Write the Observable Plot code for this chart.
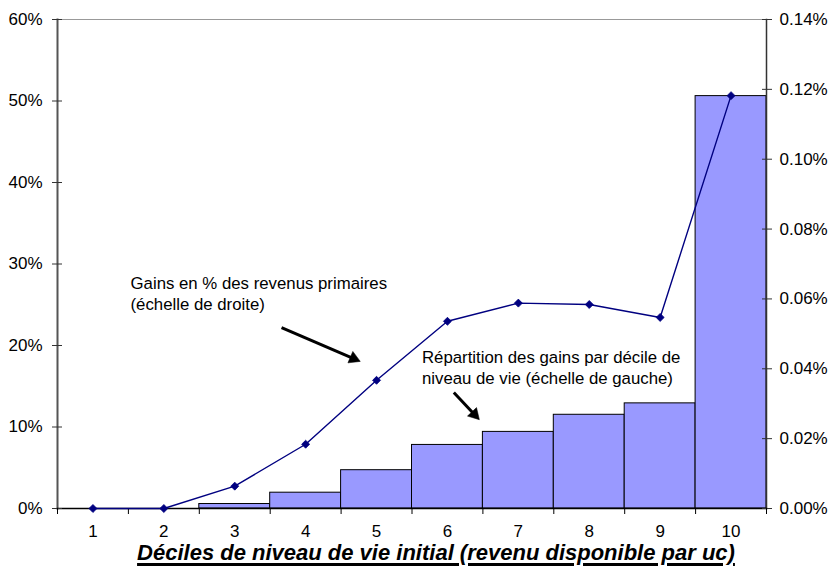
<!DOCTYPE html>
<html><head><meta charset="utf-8">
<script src="https://cdn.jsdelivr.net/npm/d3@7"></script>
<script src="https://cdn.jsdelivr.net/npm/@observablehq/plot@0.6"></script>
<style>
html,body{margin:0;padding:0;background:#fff;}
body{width:829px;height:566px;overflow:hidden;position:relative;font-family:"Liberation Sans",Arial,sans-serif;}
#chart svg{display:block;}
#title{position:absolute;left:0;top:542.8px;width:829px;box-sizing:border-box;padding-left:43px;text-align:center;height:22px;line-height:20px;
  font-size:22px;font-weight:bold;font-style:italic;text-decoration:underline;text-decoration-thickness:3px;
  text-underline-offset:3px;color:#000;white-space:nowrap;}
</style></head><body>
<div id="chart"></div>
<div id="title"></div>
<script>
// ---- data ----
const deciles = [1, 2, 3, 4, 5, 6, 7, 8, 9, 10];
// Répartition des gains par décile (échelle de gauche, en %)
const shareOfGains = [0, 0, 0.55, 1.94, 4.7, 7.8, 9.4, 11.5, 12.9, 50.6];
// Gains en % des revenus primaires (échelle de droite, en %)
const gainsPctPrimary = [0, 0, 0.0064, 0.0184, 0.0367, 0.0536, 0.0588, 0.0584, 0.0547, 0.1182];
const leftTicks = [0, 10, 20, 30, 40, 50, 60];
const rightTicks = [0, 0.02, 0.04, 0.06, 0.08, 0.10, 0.12, 0.14];
const xTitle = "Déciles de niveau de vie initial (revenu disponible par uc)";
const annotationTexts = [
  "Gains en % des revenus primaires\n(échelle de droite)",
  "Répartition des gains par décile de\nniveau de vie (échelle de gauche)"
];
// annotation anchors (x in deciles, y in left-axis %)
const annotationX = [1.53, 5.64];
const annotationY = [26.5, 17.4];
const arrowFrom = [[3.66, 22.2], [6.09, 14.23]];
const arrowTo = [[4.77, 18.05], [6.45, 10.9]];

// ---- build ----
const W = 829, H = 541, mL = 57, mR = 63, mT = 19, mB = 33;
const leftMax = 60, rightMax = 0.14;
const k = leftMax / rightMax;
const xDomain = [0.5, 10.5];
const data = deciles.map((d, i) => ({decile: d, share: shareOfGains[i], gain: gainsPctPrimary[i]}));
const edges = d3.range(0.5, 10.51, 1);
const annotations = annotationTexts.map((t, i) => ({text: t, x: annotationX[i], y: annotationY[i]}));

// scales (same as the plot) used to orient the filled arrow heads
const sx = Plot.scale({x: {type: "linear", domain: xDomain, range: [mL, W - mR]}});
const sy = Plot.scale({y: {type: "linear", domain: [0, leftMax], range: [H - mB, mT]}});
const headR = 4.6;
const headBack = 2 * Math.sqrt(Math.PI * headR * headR / (3 * Math.sqrt(3))); // tip-to-centroid
const arrows = arrowFrom.map((f, i) => {
  const t = arrowTo[i];
  const px1 = sx.apply(f[0]), py1 = sy.apply(f[1]);
  const px2 = sx.apply(t[0]), py2 = sy.apply(t[1]);
  const ang = Math.atan2(py2 - py1, px2 - px1);
  const cx = px2 - headBack * Math.cos(ang), cy = py2 - headBack * Math.sin(ang);
  return {x1: f[0], y1: f[1], hx: sx.invert(cx), hy: sy.invert(cy), rot: ang * 180 / Math.PI + 90};
});

const chart = Plot.plot({
  width: W,
  height: H,
  marginLeft: mL,
  marginRight: mR,
  marginTop: mT,
  marginBottom: mB,
  style: {fontFamily: "'Liberation Sans', Arial, sans-serif", fontSize: "17px", color: "#000", background: "#fff", overflow: "visible"},
  x: {type: "linear", domain: xDomain, axis: null},
  y: {domain: [0, leftMax], axis: null},
  marks: [
    Plot.rectY(data, {x1: d => d.decile - 0.5, x2: d => d.decile + 0.5, y: "share", fill: "#9999ff", stroke: "#000", strokeWidth: 1}),
    Plot.frame({anchor: "top", stroke: "#999", strokeWidth: 1}),
    Plot.frame({anchor: "left", stroke: "#555", strokeWidth: 2}),
    Plot.frame({anchor: "right", stroke: "#333", strokeWidth: 1.5}),
    Plot.frame({anchor: "bottom", stroke: "#000", strokeWidth: 1.5}),
    Plot.axisY({anchor: "left", ticks: leftTicks, tickSize: 10, dx: 5, tickPadding: 10, tickFormat: d => d + "%", label: null, stroke: "#333"}),
    Plot.axisY({anchor: "right", ticks: rightTicks.map(t => t * k), tickSize: 10, dx: -5, tickPadding: 8, tickFormat: d => (d / k).toFixed(2) + "%", label: null, stroke: "#333"}),
    Plot.axisX({ticks: edges, tickSize: 6, tickFormat: () => "", label: null, stroke: "#000"}),
    Plot.axisX({ticks: deciles, tickSize: 0, tickPadding: 16.5, tickFormat: d => String(d), label: null}),
    Plot.line(data, {x: "decile", y: d => d.gain * k, stroke: "#000080", strokeWidth: 1.4}),
    Plot.dot(data, {x: "decile", y: d => d.gain * k, symbol: "diamond2", r: 3.6, fill: "#000080", stroke: "#000080", strokeWidth: 0.8}),
    Plot.text(annotations, {x: "x", y: "y", text: "text", textAnchor: "start", lineAnchor: "middle", lineHeight: 1.25, fontSize: 16.8, fill: "#000"}),
    Plot.link(arrows, {x1: "x1", y1: "y1", x2: "hx", y2: "hy", stroke: "#000", strokeWidth: 3}),
    Plot.dot(arrows, {x: "hx", y: "hy", symbol: "triangle", r: headR, rotate: "rot", fill: "#000", stroke: "#000", strokeWidth: 0.5})
  ]
});
document.getElementById("chart").append(chart);
document.getElementById("title").textContent = xTitle;
</script>
</body></html>
